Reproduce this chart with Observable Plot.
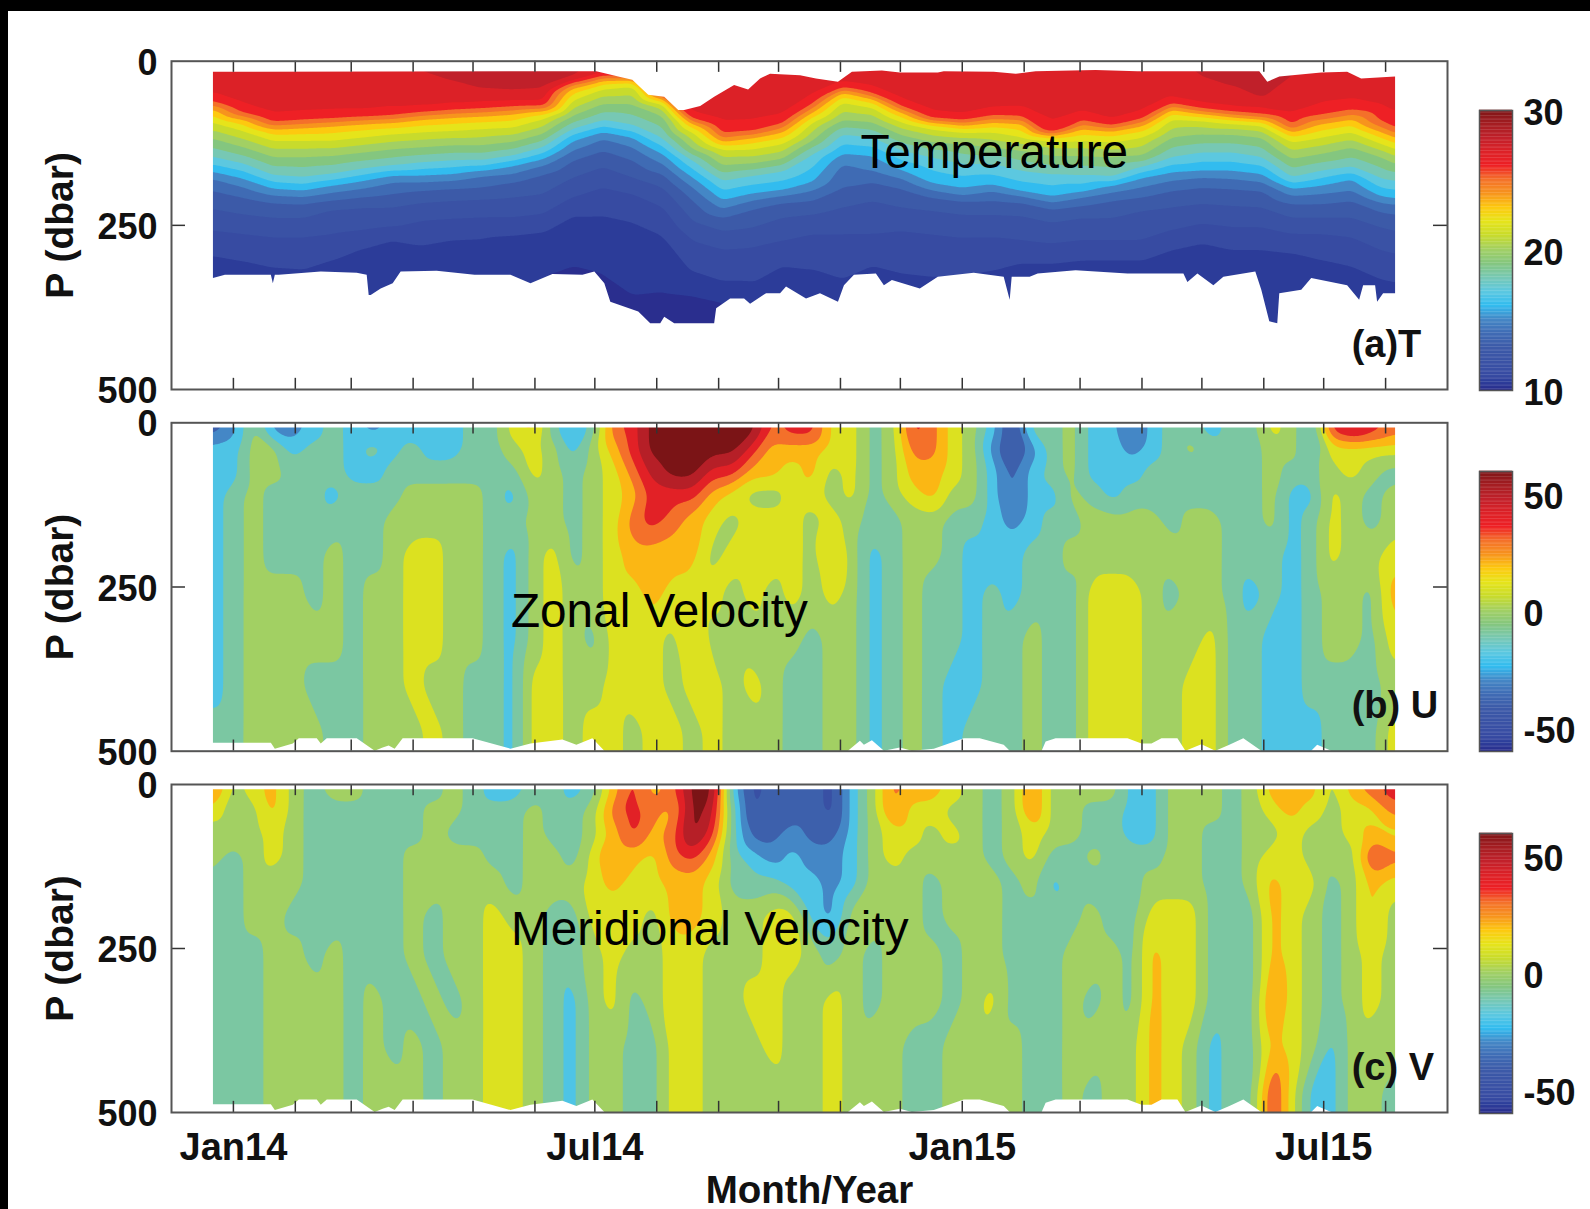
<!DOCTYPE html>
<html>
<head>
<meta charset="utf-8">
<script src="https://cdn.jsdelivr.net/npm/d3@7"></script>
<script src="https://cdn.jsdelivr.net/npm/@observablehq/plot@0.6"></script>
<style>
html,body{margin:0;padding:0;background:#fff;}
body{position:relative;width:1590px;height:1209px;overflow:hidden;font-family:"Liberation Sans",Arial,sans-serif;}
.slot{position:absolute;left:0;}
.band{position:absolute;background:#000;}
</style>
</head>
<body>
<div id="root"></div>
<script>
// Time is stored as days since 1 Jan 2014; pressure in dbar.
const tempDays = [-10,5,20,35,50,65,80,95,110,125,140,155,170,185,200,215,230,245,260,275,290,305,320,335,350,365,380,395,410,425,440,455,470,485,500,515,530,545,560,575,582];
const isoLevels = [27,26,24,22,20,18,16,15,14,13,12,11];
const isoDepths = [
[52,62,73,93,118,146,169,179,197,225,258,293],
[68,80,88,106,131,156,179,192,207,233,263,301],
[83,93,103,121,146,174,194,205,215,238,268,311],
[80,90,101,121,146,177,197,207,217,238,268,314],
[78,88,98,121,144,172,189,200,212,225,263,299],
[78,85,95,116,139,164,182,194,207,222,258,281],
[73,83,93,111,134,159,174,184,202,222,253,268],
[70,78,88,108,131,154,174,184,197,215,243,276],
[65,75,85,106,128,151,172,182,194,212,240,268],
[62,73,83,103,128,151,167,174,192,210,238,266],
[60,70,80,101,123,144,159,172,184,207,238,263],
[60,70,75,88,111,131,149,159,172,202,233,258],
[27,32,40,60,83,103,121,136,151,177,207,233],
[21,22,29,42,65,90,108,118,136,161,192,233],
[22,23,29,37,65,98,116,131,151,177,202,243],
[50,52,57,65,83,118,141,156,172,192,222,263],
[83,88,95,108,134,151,177,192,212,243,273,319],
[95,111,123,134,159,182,212,225,238,258,286,334],
[93,108,116,134,156,174,202,212,225,253,283,334],
[85,95,108,126,149,167,197,205,215,238,273,309],
[55,65,78,93,121,141,184,197,212,233,263,314],
[35,41,47,62,90,111,141,156,192,222,263,329],
[42,50,57,70,93,116,144,167,184,212,263,309],
[62,70,78,93,113,136,167,179,194,222,258,321],
[80,88,93,103,123,146,187,197,207,227,263,326],
[85,90,98,108,126,156,194,205,212,233,268,324],
[75,83,93,108,131,156,189,197,212,233,268,316],
[73,85,95,116,136,167,200,205,215,235,273,304],
[106,108,113,121,144,172,207,215,225,245,278,304],
[80,90,103,121,144,174,200,207,220,238,273,299],
[93,98,106,123,146,177,189,200,212,238,273,299],
[80,88,98,116,144,161,177,192,207,227,273,299],
[57,65,73,88,116,146,169,182,197,222,258,283],
[65,73,80,90,111,139,167,177,192,217,248,273],
[70,78,85,95,111,139,167,179,194,220,253,283],
[70,83,88,98,116,146,172,184,197,222,253,283],
[80,98,108,123,149,177,194,205,217,238,263,288],
[65,83,95,116,141,167,189,202,217,238,263,299],
[60,75,88,108,131,161,179,197,212,238,268,309],
[70,93,108,126,146,179,207,215,230,253,288,329],
[80,103,116,134,156,182,210,217,233,258,293,334]
];
const surfaceTemp = [27.5,27.5,27.5,27.5,27.5,27.5,27.5,28.3,28.9,29.1,29,28.9,28.5,28.4,27.8,27.5,27.5,27.5,27.5,27.5,27.5,27.5,27.5,27.5,27.5,27.5,27.5,27.5,27.5,27.5,27.5,27.5,27.7,28.5,29.2,28.9,28.2,27.7,27.5,27.5,27.5];
const iso28Depth = [null,null,null,null,null,null,null,14,29,42,45,42,27,22,null,null,null,null,null,null,null,null,null,null,null,null,null,null,null,null,null,null,null,22,37,57,22,null,null,null,null];
const deepDepth = [420,420,420,420,420,420,420,420,420,420,420,309,309,314,354,349,354,364,420,420,420,420,420,420,420,420,420,420,420,420,420,420,420,420,420,420,420,420,420,420,420];
const tempTopDays = [-10,182,194,200,208,216,223,226,234,241,251,258,264,269,284,292,303,310,325,334,353,356,381,392,402,432,453,514,518,524,545,558,565,582];
const tempTop = [17,16,25,29,52,55,75,75,69,55,37,44,27,20,22,27,32,17,15,18,18,16,17,20,16,14,16,16,32,24,18,17,27,24];
const tempBottomDays = [-10,-4,19,20,21,23,44,62,67,68,69,74,80,84,102,121,139,149,160,175,181,186,189,203,209,214,216,221,241,242,249,256,259,267,274,277,287,294,303,306,311,322,326,330,344,353,371,386,389,390,393,399,403,422,448,476,478,483,491,496,512,515,519,523,524,535,540,558,564,566,572,573,576,582];
const tempBottom = [331,326,326,339,326,326,321,323,326,357,357,347,339,321,320,326,326,339,325,326,321,339,367,382,400,400,390,400,400,377,362,362,370,354,354,344,362,354,367,342,326,324,342,334,347,329,323,329,364,329,329,329,324,319,324,324,337,324,342,329,321,349,397,400,354,349,331,342,364,342,342,367,354,354];
const velDays = [-10,0,10,20,30,40,50,60,70,80,90,100,110,120,130,140,150,160,170,180,190,200,210,220,230,240,250,260,270,280,290,300,310,320,330,340,350,360,370,380,390,400,410,420,430,440,450,460,470,480,490,500,510,520,530,540,550,560,570,580];
const velDepths = [12,40,75,110,150,200,260,330,400,470];
const uRows = [
[-35,-25,5,-25,-25,-15,-5,-15,-25,-15, -15,-15,-15,-5,-5,15,25,-5,-25,-5, 35,45,65,65,65,65,65,65,35,45, 45,15,15,-5,5,45,35,15,5,-15, -45,-5,-5,5,-15,-15,-35,-15,-5,-5, -15,-5,-5,15,5,-15,45,55,45,35],
[-15,-15,5,5,-15,-5,-5,-15,-5,-15, -5,-15,-15,-5,-5,5,15,5,-15,5, 25,45,65,65,65,65,65,45,25,25, 25,15,15,-5,5,35,35,15,5,-25, -45,-25,-5,5,-15,-15,-25,-15,-5,5, -5,-5,-5,5,5,-15,15,15,15,15],
[-15,-15,5,5,-5,-5,-5,-15,-15,-5, -5,-5,-5,-5,-5,-5,15,5,-5,5, 15,35,55,65,65,45,45,25,25,15, 25,5,15,-5,5,25,25,15,5,-15, -35,-15,-5,5,-15,-15,-15,-5,-5,-5, -5,-5,-5,5,-5,-5,5,15,5,-5],
[-15,-5,5,-5,-5,-5,-15,-5,-5,-5, 5,5,5,5,-5,-15,5,5,-5,5, 15,25,45,45,45,25,15,5,5,15, 15,5,15,-5,5,15,25,5,5,-15, -35,-15,-15,5,-5,-15,-5,-5,-5,-5, -5,-5,-5,5,-15,-15,15,5,-5,5],
[-15,-5,5,-5,-5,-5,-5,-5,-5,5, 5,5,5,5,-5,-5,5,5,-5,5, 15,35,45,35,25,15,5,15,15,15, 5,15,5,-5,-5,5,5,-5,-5,-15, -25,-15,-5,-5,5,5,5,5,-5,5, 5,-5,-5,5,-15,-5,15,5,-5,5],
[-15,-5,5,-5,-5,-5,5,-5,-5,5, 15,15,5,5,-5,-15,5,15,-5,5, 15,25,25,25,25,5,15,15,15,15, 5,25,5,-15,-5,5,5,-5,-15,-15, -15,-5,-5,5,5,5,5,5,5,5, 5,-5,-5,-5,-15,-5,15,5,5,15],
[-15,-5,5,5,5,-5,5,-5,5,5, 15,15,5,5,-5,-15,5,15,5,5, 15,15,25,15,15,15,5,15,5,15, 5,15,5,-15,-5,5,-5,-5,-15,-5, -15,-5,-5,-5,15,15,15,5,-5,5, 5,-5,-15,-5,-15,-5,5,5,-5,25],
[-15,-5,5,5,5,5,5,-5,5,5, 15,15,5,5,-5,-15,5,15,5,-5, 15,15,15,5,25,5,5,5,5,5, -5,5,5,-15,-5,5,-5,-5,-15,-5, -5,5,-5,-5,15,15,15,5,5,5, 15,-5,-5,-15,-15,-5,5,5,-5,15],
[-15,-5,5,5,5,-5,-5,-5,5,5, 15,5,5,-5,-5,-15,15,15,5,5, 15,15,15,5,15,15,5,15,5,-5, -5,5,5,-15,-5,5,-5,-15,-15,-5, -5,5,-5,-5,15,15,15,5,5,15, 15,-5,-5,-15,-15,-5,-5,-5,-5,5],
[-5,-5,5,5,5,5,-5,-5,5,5, 5,15,5,-5,-5,-15,15,15,5,15, 15,5,15,15,5,15,5,5,5,-5, -5,5,5,-15,-5,5,-5,-15,-5,-5, -5,5,-5,-5,15,15,15,5,5,15, 15,-5,-5,-15,-15,-15,-5,-5,-5,15]
];
const vRows = [
[35,5,15,25,5,-5,5,5,-5,-5, -5,-5,5,-5,-15,-15,-5,-5,-15,-5, 25,45,25,35,65,65,-15,-45,-35,-35, -35,-45,-15,5,35,25,25,15,5,-5, 5,35,5,5,5,5,-15,-15,5,5, 5,-5,5,25,25,25,5,25,35,45],
[15,5,5,25,5,-5,-5,-5,-5,-5, -5,5,5,-5,-5,-5,5,-5,-5,5, 35,45,35,25,65,55,-5,-45,-25,-35, -35,-45,-15,5,35,15,15,5,5,-5, 5,35,5,5,-5,-5,-15,-15,5,5, 5,-5,5,15,25,15,5,15,15,35],
[5,5,5,15,5,-5,-5,-5,-5,-5, -5,5,-5,-5,-5,-5,5,-5,-5,5, 25,45,25,35,65,45,-5,-35,-35,-25, -35,-35,-15,5,15,15,5,15,5,-5, 5,15,5,5,-5,-5,-15,-15,5,5, -5,-5,5,5,15,5,5,15,25,15],
[5,-5,5,15,5,-5,-5,-5,-5,-5, 5,5,5,5,-5,-5,5,5,-5,15, 35,25,15,35,45,25,-5,-15,-25,-15, -25,-25,-15,5,15,5,5,5,5,-5, 5,15,-5,-5,5,-5,-5,-5,5,5, -5,-5,5,15,15,5,5,5,45,35],
[-5,-5,5,5,5,-5,-5,-5,-5,-5, 5,5,5,5,5,-5,5,5,5,15, 25,15,15,25,25,15,-5,-5,-5,-15, -15,-25,-15,5,5,5,-5,5,5,5, -5,5,-15,-5,-5,-5,-5,5,5,5, -5,-5,5,25,15,15,-5,5,25,15],
[-5,-5,5,5,-5,-5,-5,-5,-5,-5, 5,-5,5,5,15,5,5,-5,-5,15, 15,15,5,25,25,15,5,5,15,15, -15,-25,5,5,5,5,-5,5,5,5, -5,-5,-5,-5,5,-5,-5,15,15,15, -5,-5,-5,25,15,5,-5,5,25,5],
[-5,-5,-5,5,5,-5,5,-5,-5,-5, 5,-5,5,5,15,15,5,-5,-5,5, 15,5,5,15,15,5,5,5,15,15, 5,-5,5,-5,5,5,5,-5,5,5, -5,-5,-5,5,5,5,-5,25,15,15, -5,-5,-5,25,15,5,-5,5,15,5],
[-5,-5,-5,5,5,5,5,-5,5,-5, -5,5,-5,5,15,15,5,-5,-15,5, 15,-5,5,15,15,5,5,15,15,5, 5,15,5,-5,5,5,5,-5,5,15, -5,-5,-5,5,-5,5,-5,25,15,15, -5,-5,-5,35,15,5,-5,5,15,5],
[-5,-5,-5,5,5,5,5,-5,5,-5, 5,-5,5,5,15,15,5,-5,-15,5, 5,-5,-5,15,15,5,5,5,15,5, 5,15,5,5,5,-5,-5,5,5,5, 5,-5,-5,5,5,5,5,25,15,5, -15,-5,-5,25,15,5,-15,5,5,5],
[-5,-5,-5,5,5,5,5,-5,5,5, 5,-5,5,5,15,15,5,-5,-15,5, 5,-5,-5,15,15,5,5,5,5,5, 5,15,5,5,5,-5,-5,5,5,5, 5,-5,-5,5,-5,5,5,25,15,5, -15,-5,-5,45,15,-15,-15,5,5,-5]
];
const velBottomDays = [-10,19,21,30,33,42,44,47,62,71,75,78,81,85,120,139,149,165,172,180,186,308,314,316,320,326,334,340,351,366,374,386,389,405,407,412,448,455,460,465,473,477,485,492,499,506,515,540,543,550,582];
const velBottom = [488,488,497,489,481,481,489,481,481,500,495,492,497,481,481,497,489,483,491,481,500,500,485,491,484,500,495,500,497,481,481,491,500,500,486,481,481,489,489,481,481,500,490,500,491,481,500,500,491,500,500];
const velTop = 8;
const monthTicks = d3.range(0,20).map(m => new Date(Date.UTC(2014,m,1)));
const xLabelled = [new Date(Date.UTC(2014,0,1)),new Date(Date.UTC(2014,6,1)),new Date(Date.UTC(2015,0,1)),new Date(Date.UTC(2015,6,1))];
const xLabelText = ["Jan14","Jul14","Jan15","Jul15"];
const pressureTicks = [0,250,500];
const paletteStops = [0,.025,.05,.1,.15,.2,.25,.3,.35,.4,.45,.5,.55,.6,.65,.7,.75,.8,.85,.9,.95,1];
const paletteColors = ["#2a2e8e","#2c3c99","#374ba2","#3a52a5","#3c5aa8","#3f6bb4","#4487c6","#32bcef","#5cc8e0","#77c8b4","#84c67f","#a2d063","#c8db2c","#e6e41a","#fdc90f","#f7941d","#f4702a","#ee2025","#dc2127","#c0202a","#a31d21","#7b1416"];
const tempThresholds = [10,10.5,11,12,13,14,15,16,17,18,19,20,21,22,23,24,25,26,27,28,29];
const velThresholds = [-60,-50,-40,-30,-20,-10,0,10,20,30,40,50,60];

const FONT = "Liberation Sans";
const day = d => new Date(Date.UTC(2014,0,1+d));
const domainX = [new Date(Date.UTC(2013,11,1)), new Date(Date.UTC(2015,8,1))];
const dayMin = -31, dayMax = 608;
const dataStart = day(-10), dataEnd = day(582);
const zip = (ds,ps) => ds.map((d,i) => ({date:day(d),p:ps[i]}));
const colorFor = (lo,hi) => ({type:"linear",domain:paletteStops.map(t=>lo+t*(hi-lo)),range:paletteColors,legend:false});

// Outer columns and rows repeat the nearest read values so the interpolation reaches the frame.
const tempPoints = [];
const pushTempColumn = (d,i) => {
  const date = day(d);
  tempPoints.push({date,p:0,v:surfaceTemp[i]});
  if (iso28Depth[i] != null) tempPoints.push({date,p:iso28Depth[i],v:28});
  isoLevels.forEach((lev,j) => tempPoints.push({date,p:isoDepths[i][j],v:lev}));
  tempPoints.push({date,p:deepDepth[i],v:10.5});
  tempPoints.push({date,p:500,v:10.2});
};
pushTempColumn(dayMin,0);
tempDays.forEach(pushTempColumn);
pushTempColumn(dayMax,tempDays.length-1);

const gridPoints = rows => {
  const out = [];
  const days = [dayMin,...velDays,dayMax];
  const depths = [0,...velDepths,500];
  depths.forEach((p,r) => days.forEach((d,c) => {
    const rr = Math.min(Math.max(r-1,0),velDepths.length-1);
    const cc = Math.min(Math.max(c-1,0),velDays.length-1);
    out.push({date:day(d),p,v:rows[rr][cc]});
  }));
  return out;
};
const spanEdge = e => [{date:domainX[0],p:e[0].p},...e,{date:domainX[1],p:e[e.length-1].p}];

function panel({top,height,marginTop,marginBottom,points,thresholds,lo,hi,topEdge,bottomEdge,name,nameDay,nameDepth,tag,tagDepth,xAxis,blur}) {
  const marks = [
    Plot.contour(points,{x:"date",y:"p",value:"v",fill:"value",thresholds,interpolate:"barycentric",blur,pixelSize:1}),
    Plot.rect([0],{x1:domainX[0],x2:dataStart,y1:0,y2:500,fill:"white"}),
    Plot.rect([0],{x1:dataEnd,x2:domainX[1],y1:0,y2:500,fill:"white"}),
    Plot.areaY(spanEdge(topEdge),{x:"date",y1:0,y2:"p",fill:"white"}),
    Plot.areaY(spanEdge(bottomEdge),{x:"date",y1:"p",y2:500,fill:"white"}),
    Plot.ruleX(monthTicks,{y1:0,y2:17,stroke:"#333",strokeWidth:1.5}),
    Plot.ruleX(monthTicks,{y1:483,y2:500,stroke:"#333",strokeWidth:1.5}),
    Plot.ruleY([250],{x1:domainX[0],x2:day(-24.5),stroke:"#333",strokeWidth:1.5}),
    Plot.ruleY([250],{x1:day(601.5),x2:domainX[1],stroke:"#333",strokeWidth:1.5}),
    Plot.frame({stroke:"#555",strokeWidth:2}),
    Plot.axisY({anchor:"left",ticks:pressureTicks,tickSize:0,tickPadding:14,dy:2,label:null,tickFormat:String,fontSize:36,fontWeight:"bold",fontFamily:FONT,fill:"#111"}),
    Plot.text(["P (dbar)"],{frameAnchor:"left",rotate:-90,dx:-111,textAnchor:"middle",fontSize:39,fontWeight:"bold",fontFamily:FONT,fill:"#111"}),
    Plot.text([name],{x:day(nameDay),y:nameDepth,textAnchor:"start",lineAnchor:"bottom",fontSize:47.7,fontFamily:FONT,fill:"#000"}),
    Plot.text([tag],{x:day(560),y:tagDepth,textAnchor:"start",lineAnchor:"bottom",fontSize:38,fontWeight:"bold",fontFamily:FONT,fill:"#111"})
  ];
  if (xAxis) {
    marks.push(
      Plot.axisX({anchor:"bottom",ticks:xLabelled,tickSize:0,tickPadding:21,label:null,tickFormat:d=>xLabelText[xLabelled.findIndex(t=>+t===+d)],fontSize:38,fontWeight:"bold",fontFamily:FONT,fill:"#111"}),
      Plot.text(["Month/Year"],{frameAnchor:"bottom",dy:90,lineAnchor:"bottom",fontSize:38.5,fontWeight:"bold",fontFamily:FONT,fill:"#111"})
    );
  }
  const svg = Plot.plot({
    width:1590,height,marginLeft:171,marginRight:143,marginTop,marginBottom,
    style:{background:"transparent",overflow:"visible"},
    x:{type:"utc",domain:domainX,axis:null},
    y:{domain:[0,500],reverse:true,axis:null},
    color:colorFor(lo,hi),
    marks
  });
  return place(svg,top,0);
}

function colorbar({top,lo,hi,ticks,step}) {
  const vals = d3.range(lo,hi,step);
  const svg = Plot.plot({
    width:120,height:300,marginLeft:9,marginRight:78,marginTop:10,marginBottom:10,
    style:{background:"transparent",overflow:"visible"},
    x:{domain:[0,1],axis:null},
    y:{domain:[lo,hi],axis:null},
    color:colorFor(lo,hi),
    marks:[
      Plot.rect(vals,{x1:0,x2:1,y1:d=>d,y2:d=>d+step*1.2,fill:d=>d}),
      Plot.frame({stroke:"#555",strokeWidth:1.5}),
      Plot.axisY({anchor:"right",ticks,tickSize:0,tickPadding:11,dy:3,label:null,tickFormat:String,fontSize:36,fontWeight:"bold",fontFamily:FONT,fill:"#111"})
    ]
  });
  return place(svg,top-10,1470);
}

function place(node,top,left) {
  const wrap = document.createElement("div");
  wrap.className = "slot";
  wrap.style.top = top+"px";
  wrap.style.left = left+"px";
  wrap.appendChild(node);
  document.getElementById("root").appendChild(wrap);
  return wrap;
}

const velTopEdge = [{date:dataStart,p:velTop},{date:dataEnd,p:velTop}];
panel({top:0,height:410,marginTop:60.7,marginBottom:21,points:tempPoints,thresholds:tempThresholds,lo:10,hi:30,blur:3,
  topEdge:zip(tempTopDays,tempTop),bottomEdge:zip(tempBottomDays,tempBottom),
  name:"Temperature",nameDay:314,nameDepth:163,tag:"(a)T",tagDepth:451});
panel({top:410,height:360,marginTop:12.3,marginBottom:19.3,points:gridPoints(uRows),thresholds:velThresholds,lo:-60,hi:60,blur:6,
  topEdge:velTopEdge,bottomEdge:zip(velBottomDays,velBottom),
  name:"Zonal Velocity",nameDay:139,nameDepth:311,tag:"(b) U",tagDepth:450});
panel({top:770,height:439,marginTop:14,marginBottom:97,points:gridPoints(vRows),thresholds:velThresholds,lo:-60,hi:60,blur:6,
  topEdge:velTopEdge,bottomEdge:zip(velBottomDays,velBottom),
  name:"Meridional Velocity",nameDay:139,nameDepth:245,tag:"(c) V",tagDepth:451,xAxis:true});
colorbar({top:110,lo:10,hi:30,ticks:[10,20,30],step:0.1});
colorbar({top:471,lo:-60,hi:60,ticks:[-50,0,50],step:0.6});
colorbar({top:833,lo:-60,hi:60,ticks:[-50,0,50],step:0.6});

for (const [l,t,w,h] of [[0,0,1590,11],[0,0,8,1209]]) {
  const b = document.createElement("div");
  b.className = "band";
  b.style.cssText = `left:${l}px;top:${t}px;width:${w}px;height:${h}px;`;
  document.getElementById("root").appendChild(b);
}
</script>
</body>
</html>
